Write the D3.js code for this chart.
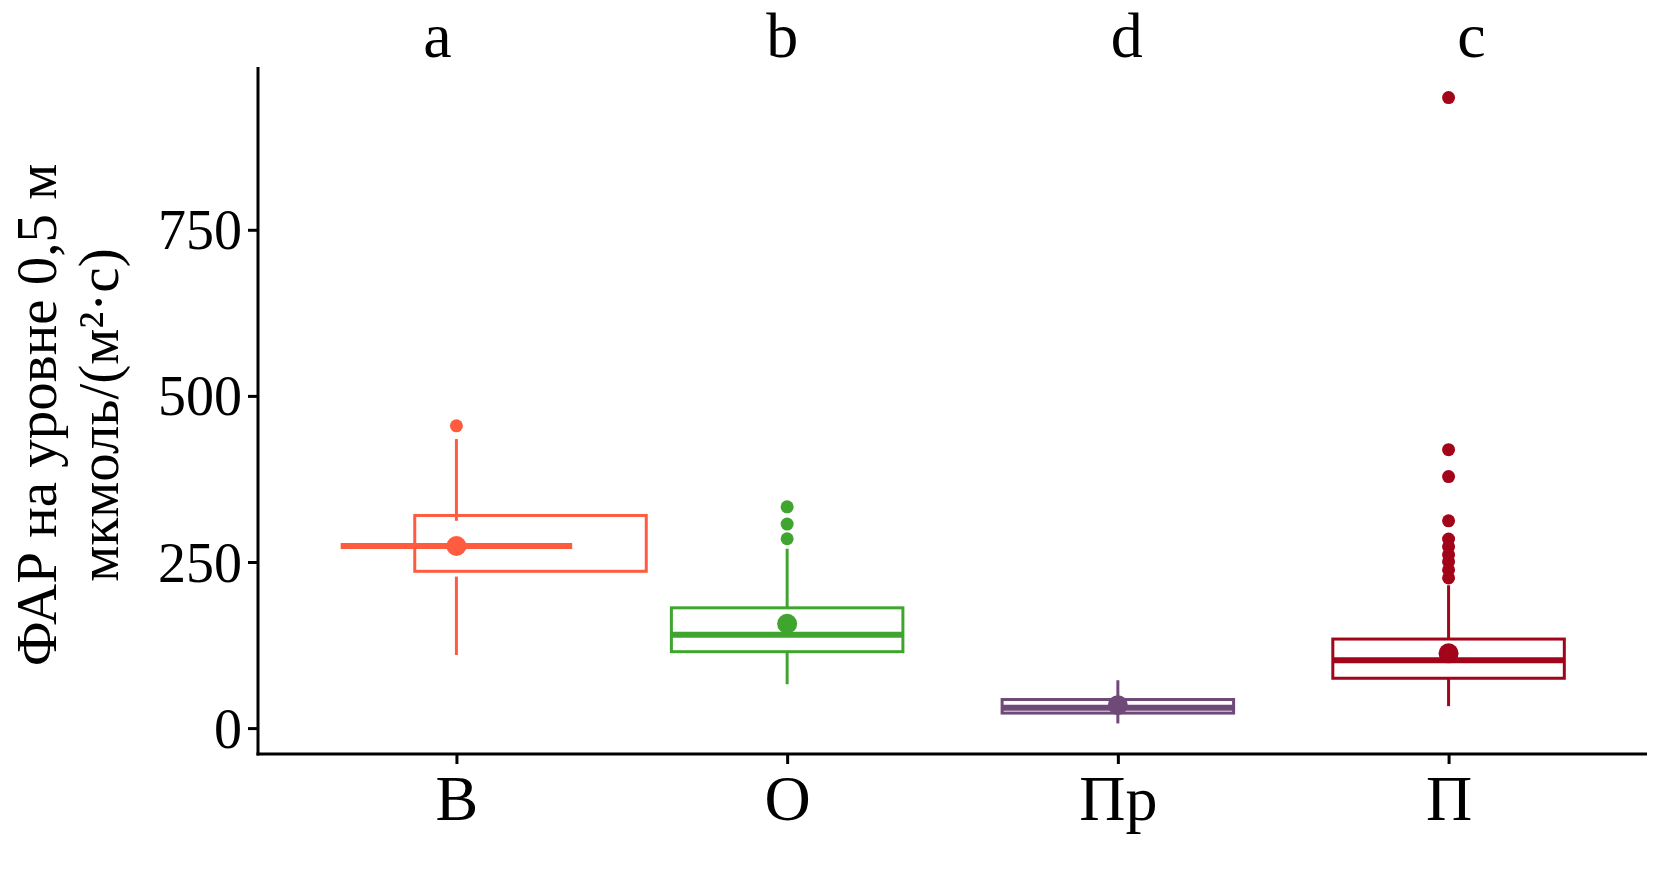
<!DOCTYPE html>
<html>
<head>
<meta charset="utf-8">
<script src="https://cdn.jsdelivr.net/npm/d3@7"></script>
<style>
  body { margin: 0; background: #fff; }
  text { font-family: 'Liberation Serif', 'Times New Roman', serif; fill: #000; }
</style>
</head>
<body>
<div class="chart"></div>
<script>
// Data
const groups = ["В", "О", "Пр", "П"];
const letters = ["a", "b", "d", "c"];
const colors = ["#ff5c3f", "#3fa52e", "#6f4a78", "#a2041a"];
const q1 = [236, 115, 22.6, 75];
const q3 = [320, 181, 43, 134];
const medians = [274, 140.5, 30.5, 102];
const means = [274, 157, 34.5, 112.5];
const whiskerLow = [110, 66, 7, 33];
const whiskerHigh = [435, 270, 72, 215];
// where the whiskers start (box of В is drawn off its whiskers)
const whiskerFromLow = [228, 115, 22.6, 75];
const whiskerFromHigh = [312, 181, 43, 134];
const outliers = [
  [455],
  [333, 307, 285],
  [],
  [949, 419, 378.5, 312, 284.5, 273, 261, 250.5, 238, 226]
];
const yTicks = [0, 250, 500, 750];

// box of В is shifted right (fraction of a category step)
const boxNudge = [0.224, 0, 0, 0];

const W = 1673, H = 895;
const panel = {left: 258, right: 1647, top: 67, bottom: 754};

const x = d3.scalePoint().domain(groups).range([panel.left, panel.right]).padding(0.6);
const y = d3.scaleLinear().domain([-39, 995]).range([panel.bottom, panel.top]);
const step = x.step();
const boxW = step * 0.7;
const letterX = d3.scalePoint().domain(groups).range([x(groups[0]) - 19, x(groups[3]) + 23]);

const svg = d3.select(".chart").append("svg")
    .attr("width", W)
    .attr("height", H);

svg.append("rect").attr("width", W).attr("height", H).attr("fill", "#fff");

const data = groups.map((g, i) => ({
  g, i, color: colors[i], q1: q1[i], q3: q3[i], med: medians[i], mean: means[i],
  lo: whiskerLow[i], hi: whiskerHigh[i], fromLo: whiskerFromLow[i], fromHi: whiskerFromHigh[i],
  out: outliers[i], nudge: boxNudge[i]
}));

// Boxes
svg.selectAll(".box")
  .data(data)
  .join("rect")
    .attr("class", "box")
    .attr("x", d => x(d.g) + d.nudge * step - boxW / 2)
    .attr("y", d => y(d.q3))
    .attr("width", boxW)
    .attr("height", d => y(d.q1) - y(d.q3))
    .attr("fill", "#fff")
    .attr("stroke", d => d.color)
    .attr("stroke-width", 3);

// Whiskers
const whiskers = [];
data.forEach(d => {
  whiskers.push({g: d.g, color: d.color, a: d.fromHi, b: d.hi});
  whiskers.push({g: d.g, color: d.color, a: d.fromLo, b: d.lo});
});
svg.selectAll(".whisker")
  .data(whiskers)
  .join("line")
    .attr("class", "whisker")
    .attr("x1", d => x(d.g)).attr("x2", d => x(d.g))
    .attr("y1", d => y(d.a)).attr("y2", d => y(d.b))
    .attr("stroke", d => d.color)
    .attr("stroke-width", 3);

// Medians
svg.selectAll(".median")
  .data(data)
  .join("line")
    .attr("class", "median")
    .attr("x1", d => x(d.g) - boxW / 2)
    .attr("x2", d => x(d.g) + boxW / 2)
    .attr("y1", d => y(d.med)).attr("y2", d => y(d.med))
    .attr("stroke", d => d.color)
    .attr("stroke-width", 6);

// Means
svg.selectAll(".mean")
  .data(data)
  .join("circle")
    .attr("class", "mean")
    .attr("cx", d => x(d.g))
    .attr("cy", d => y(d.mean))
    .attr("r", 10)
    .attr("fill", d => d.color);

// Outliers
const outPts = data.flatMap(d => d.out.map(v => ({g: d.g, color: d.color, v})));
svg.selectAll(".outlier")
  .data(outPts)
  .join("circle")
    .attr("class", "outlier")
    .attr("cx", d => x(d.g))
    .attr("cy", d => y(d.v))
    .attr("r", 6.5)
    .attr("fill", d => d.color);

// Axes
const yAxis = svg.append("g")
    .attr("transform", "translate(" + panel.left + ",0)")
    .call(d3.axisLeft(y).tickValues(yTicks).tickSize(10).tickPadding(6));
const xAxis = svg.append("g")
    .attr("transform", "translate(0," + panel.bottom + ")")
    .call(d3.axisBottom(x).tickSize(10).tickPadding(11));

[xAxis, yAxis].forEach(a => {
  a.attr("font-family", null);
  a.select(".domain").remove();
  a.selectAll(".tick line").attr("stroke", "#000").attr("stroke-width", 3);
  a.selectAll(".tick text").attr("fill", "#000").style("font-family", "'Liberation Serif', serif");
});
yAxis.selectAll(".tick text").style("font-size", "56px").attr("dy", "0.34em");
xAxis.selectAll(".tick text").style("font-size", "64px").attr("dy", "0.71em");

svg.append("line")
    .attr("x1", panel.left).attr("x2", panel.left)
    .attr("y1", panel.top).attr("y2", panel.bottom + 1.5)
    .attr("stroke", "#000").attr("stroke-width", 3);
svg.append("line")
    .attr("x1", panel.left - 1.5).attr("x2", panel.right)
    .attr("y1", panel.bottom).attr("y2", panel.bottom)
    .attr("stroke", "#000").attr("stroke-width", 3);

// Group letters on top
svg.selectAll(".letter")
  .data(data)
  .join("text")
    .attr("class", "letter")
    .attr("x", d => letterX(d.g))
    .attr("y", 57)
    .attr("text-anchor", "middle")
    .style("font-size", "64px")
    .text(d => letters[d.i]);

// Y title
const yt = svg.append("g").attr("transform", "translate(0,415) rotate(-90)");
yt.append("text")
    .attr("x", 0).attr("y", 56)
    .attr("text-anchor", "middle")
    .style("font-size", "57px")
    .text("ФАР на уровне 0,5 м");
yt.append("text")
    .attr("x", 0).attr("y", 118)
    .attr("text-anchor", "middle")
    .style("font-size", "57px")
    .text("мкмоль/(м²·с)");
</script>
</body>
</html>
